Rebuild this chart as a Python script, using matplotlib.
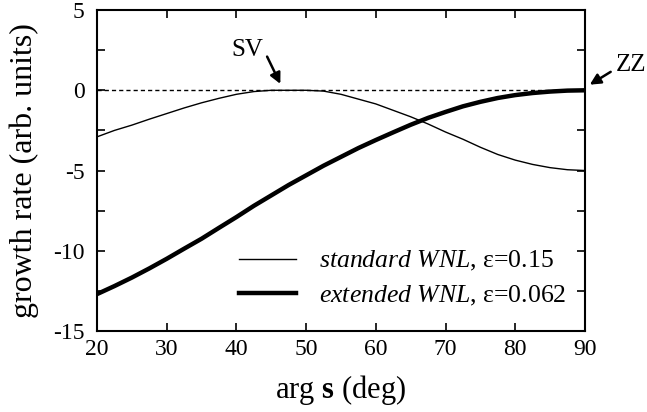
import matplotlib
matplotlib.use("Agg")
import matplotlib.pyplot as plt
from matplotlib.ticker import MultipleLocator

plt.rcParams['font.family'] = ['Liberation Serif', 'DejaVu Serif']
plt.rcParams['mathtext.fontset'] = 'custom'
plt.rcParams['mathtext.rm'] = 'Liberation Serif'
plt.rcParams['mathtext.it'] = 'Liberation Serif:italic'
plt.rcParams['mathtext.bf'] = 'Liberation Serif:bold'
plt.rcParams['axes.unicode_minus'] = False

# data
std_x = [20, 22.5, 25, 27.5, 30, 32.5, 35, 37.5, 40, 42.5, 45, 47.5, 50, 52.5, 55,
         57.5, 60, 62.5, 65, 67.5, 70, 72.5, 75, 77.5, 80, 82.5, 85, 87.5, 90]
std_y = [-2.9, -2.5, -2.17, -1.8, -1.45, -1.1, -0.78, -0.5, -0.25, -0.08, 0.0, 0.0, 0.0, -0.05, -0.25,
         -0.55, -0.85, -1.25, -1.65, -2.1, -2.6, -3.05, -3.55, -4.0, -4.35, -4.62, -4.82, -4.95, -5.0]
ext_x = [20, 22.5, 25, 27.5, 30, 32.5, 35, 37.5, 40, 42.5, 45, 47.5, 50, 52.5, 55,
         57.5, 60, 62.5, 65, 67.5, 70, 72.5, 75, 77.5, 80, 82.5, 85, 87.5, 90]
ext_y = [-12.7, -12.2, -11.67, -11.1, -10.5, -9.87, -9.25, -8.57, -7.9, -7.2, -6.55, -5.9, -5.3, -4.7, -4.15,
         -3.6, -3.1, -2.62, -2.15, -1.72, -1.35, -1.0, -0.72, -0.48, -0.3, -0.17, -0.08, -0.02, 0.0]

std_label = r"$\it{standard\ WNL}$, ε=0.15"
ext_label = r"$\it{extended\ WNL}$, ε=0.062"

fig = plt.figure(figsize=(6.47, 4.12), dpi=100)
ax = fig.add_axes([0.150, 0.1966, 0.754, 0.779])

ax.axhline(0, color='black', lw=1.0, linestyle=(0, (3, 2.2)), zorder=1)
ax.plot(std_x, std_y, color='black', lw=1.0, label=std_label, zorder=3)
ax.plot(ext_x, ext_y, color='black', lw=3.2, label=ext_label, zorder=3)

ax.set_xlim(20, 90)
ax.set_ylim(-15, 5)
ax.xaxis.set_major_locator(MultipleLocator(10))
ax.yaxis.set_major_locator(MultipleLocator(5))
ax.yaxis.set_minor_locator(MultipleLocator(2.5))
ax.tick_params(which='both', direction='in', top=True, right=True,
               length=6, width=1.2, labelsize=17)
ax.tick_params(axis='x', pad=6)
ax.tick_params(axis='y', pad=9)
for s in ax.spines.values():
    s.set_linewidth(1.5)

ax.set_xlabel(r"arg $\mathbf{s}$ (deg)", fontsize=22, labelpad=9)
ax.set_ylabel("growth rate (arb. units)", fontsize=23, labelpad=10)

leg = ax.legend(loc='lower right', bbox_to_anchor=(0.994, 0.025), frameon=False,
                fontsize=18.5, handlelength=2.2, handletextpad=0.9, labelspacing=0.4,
                borderaxespad=0.2)

# annotations: text and arrows
ax.text(41.5, 2.5, "SV", fontsize=18, ha='center', va='center')
ax.annotate("", xy=(46.3, 0.4), xytext=(44.4, 2.1),
            arrowprops=dict(arrowstyle='-|>', color='black', lw=1.8,
                            mutation_scale=16, shrinkA=0, shrinkB=0))
ax.text(96.6, 1.6, "ZZ", fontsize=18, ha='center', va='center', clip_on=False)
ax.annotate("", xy=(90.7, 0.35), xytext=(93.7, 1.15), annotation_clip=False,
            arrowprops=dict(arrowstyle='-|>', color='black', lw=1.8,
                            mutation_scale=16, shrinkA=0, shrinkB=0))

fig.savefig("out.png", dpi=100)
